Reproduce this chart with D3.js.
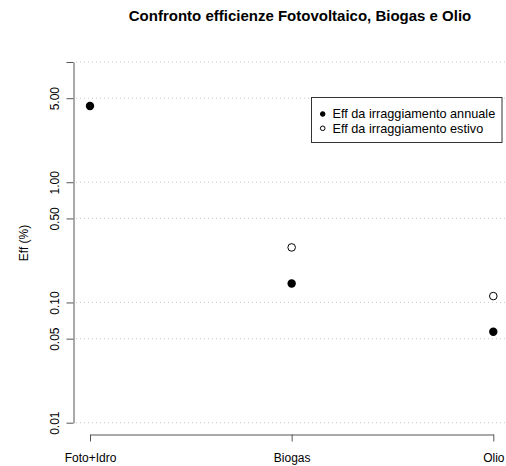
<!DOCTYPE html>
<html>
<head>
<meta charset="utf-8">
<script src="https://cdn.jsdelivr.net/npm/d3@7"></script>
<style>
  body { margin: 0; background: #fff; }
  svg { display: block; font-family: "Liberation Sans", Arial, sans-serif; }
</style>
</head>
<body>
<div id="chart"></div>
<script>
// Categories and values (Eff %)
const categories = ["Foto+Idro", "Biogas", "Olio"];
const effAnnuale = [4.3, 0.144, 0.057];
const effEstivo = [null, 0.287, 0.113];
const yTicks = [0.01, 0.05, 0.1, 0.5, 1, 5, 10];
const yTickLabels = ["0.01", "0.05", "0.10", "0.50", "1.00", "5.00", ""];
const legendLabels = ["Eff da irraggiamento annuale", "Eff da irraggiamento estivo"];

const W = 506, H = 466;
const svg = d3.select("#chart").append("svg")
  .attr("width", W).attr("height", H);

const x = d3.scalePoint()
  .domain(categories)
  .range([90, 493.3]);

const y = d3.scaleLog()
  .domain([0.01, 10])
  .range([422.7, 62]);

// Grid lines (dotted)
svg.append("g").selectAll("line")
  .data(yTicks)
  .enter()
  .append("line")
  .attr("x1", 76).attr("x2", W)
  .attr("y1", d => y(d)).attr("y2", d => y(d))
  .style("stroke", "#c8c8c8")
  .style("stroke-width", 1)
  .style("stroke-dasharray", "1,3");

// Y axis
const yAxis = svg.append("g")
  .attr("transform", "translate(73.5,0)")
  .call(d3.axisLeft(y).tickValues(yTicks).tickFormat((d, i) => yTickLabels[i]).tickSize(7).tickSizeOuter(0));
yAxis.select(".domain").style("stroke", "#555");
yAxis.selectAll(".tick line").style("stroke", "#555");
yAxis.selectAll(".tick text")
  .attr("transform", "rotate(-90)")
  .attr("x", 0)
  .attr("y", -19)
  .attr("dy", "0.35em")
  .style("text-anchor", "middle")
  .style("font-size", "12px")
  .style("font-family", "Liberation Sans, Arial, sans-serif")
  .style("fill", "#000");

// X axis
const xAxis = svg.append("g")
  .attr("transform", "translate(0,434.5)")
  .call(d3.axisBottom(x).tickSize(7).tickSizeOuter(0));
xAxis.select(".domain").style("stroke", "#555");
xAxis.selectAll(".tick line").style("stroke", "#555");
xAxis.selectAll(".tick text")
  .attr("y", 19)
  .style("font-size", "12px")
  .style("font-family", "Liberation Sans, Arial, sans-serif")
  .style("fill", "#000");

// Y axis label
svg.append("text")
  .attr("transform", "rotate(-90)")
  .attr("x", -243)
  .attr("y", 28)
  .attr("text-anchor", "middle")
  .style("font-size", "12px")
  .text("Eff (%)");

// Title
svg.append("text")
  .attr("x", 300)
  .attr("y", 21)
  .attr("text-anchor", "middle")
  .style("font-size", "15px")
  .style("font-weight", "bold")
  .text("Confronto efficienze Fotovoltaico, Biogas e Olio");

// Points
svg.append("g").selectAll("circle")
  .data(categories.map((c, i) => ({ c, v: effEstivo[i] })).filter(d => d.v != null))
  .enter()
  .append("circle")
  .attr("cx", d => x(d.c))
  .attr("cy", d => y(d.v))
  .attr("r", 3.8)
  .style("fill", "#fff")
  .style("stroke", "#000")
  .style("stroke-width", 1);

svg.append("g").selectAll("circle")
  .data(categories.map((c, i) => ({ c, v: effAnnuale[i] })))
  .enter()
  .append("circle")
  .attr("cx", d => x(d.c))
  .attr("cy", d => y(d.v))
  .attr("r", 4.2)
  .style("fill", "#000");

// Legend
const legend = svg.append("g");
legend.append("rect")
  .attr("x", 311.5).attr("y", 97.5)
  .attr("width", 190.5).attr("height", 45)
  .style("fill", "#fff")
  .style("stroke", "#333")
  .style("stroke-width", 1);

legendLabels.forEach((lab, i) => {
  const cy = 114 + i * 14.3;
  legend.append("circle")
    .attr("cx", 322.7).attr("cy", cy)
    .attr("r", 2.3)
    .style("fill", i === 0 ? "#000" : "#fff")
    .style("stroke", "#000")
    .style("stroke-width", 1);
  legend.append("text")
    .attr("x", 332.5).attr("y", cy)
    .attr("dy", "0.35em")
    .style("font-size", "12.7px")
    .text(lab);
});
</script>
</body>
</html>
